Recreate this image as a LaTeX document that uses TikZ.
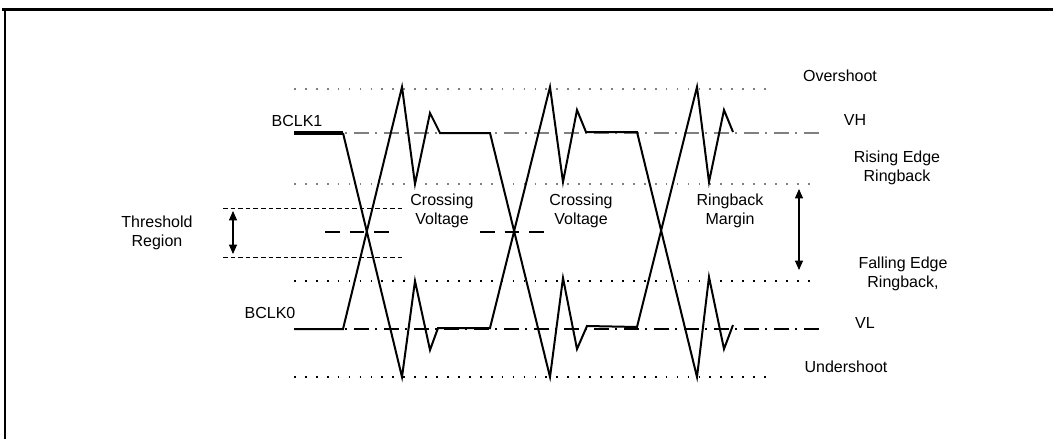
\documentclass[tikz,border=0pt]{standalone}
\usepackage{fontspec}
\setmainfont{Liberation Sans}
\usetikzlibrary{arrows.meta}

\begin{document}
\begin{tikzpicture}[x=0.75pt,y=-0.75pt,
    lbl/.style={font=\fontsize{12}{14.4}\selectfont, align=center, inner sep=0pt},
    wave/.style={line width=1.5pt, line join=miter},
    dotline/.style={line width=1.2pt, dash pattern=on 1.3pt off 6.9pt},
    dashdot/.style={line width=1.2pt, dash pattern=on 11pt off 5pt on 1.5pt off 5pt},
    thresh/.style={line width=0.6pt, dash pattern=on 3.5pt off 2.2pt},
    cross/.style={line width=1.2pt, dash pattern=on 11pt off 7.5pt},
    dbl/.style={line width=0.8pt, {Triangle[length=7pt,width=6pt]}-{Triangle[length=7pt,width=6pt]}}]
    \useasboundingbox (0,0) rectangle (1053,439);
    % frame
    \draw[line width=2.2pt] (2,9.5) -- (1053,9.5);
    \draw[line width=1.5pt] (4.5,8) -- (4.5,439);

    % reference levels
    \draw[dotline, gray] (294,89) -- (770,89);
    \draw[dashdot, gray] (294,133) -- (820,133);
    \draw[dotline, gray] (294,184) -- (817,184);
    \draw[dotline] (294,281) -- (817,281);
    \draw[dashdot] (294,329) -- (820,329);
    \draw[dotline] (294,377) -- (770,377);

    % threshold region and crossing voltage
    \draw[thresh] (223,208) -- (403,208);
    \draw[thresh] (223,257) -- (403,257);
    \draw[cross] (325,232) -- (392,232);
    \draw[cross] (480,232) -- (547,232);

    % clocks
    \draw[line width=3pt] (294,133) -- (343,133);
    \draw[wave] (343,133) -- (402,377) -- (415,281) -- (430,350) -- (438,328)
        -- (490,328) -- (550,87) -- (563,182) -- (577,110) -- (586,132)
        -- (637,132) -- (697,377) -- (709,277) -- (724,349) -- (733,325);
    \draw[wave] (294,329) -- (343,329) -- (402,87) -- (415,184) -- (430,113)
        -- (440,133) -- (490,133) -- (550,377) -- (563,278) -- (577,349)
        -- (587,326) -- (637,327) -- (697,87) -- (709,182) -- (724,110)
        -- (733,132);

    % arrows
    \coordinate (thTop) at (233,211);
    \coordinate (thBot) at (233,254);
    \draw[dbl] (thTop) -- (thBot);
    \coordinate (rbTop) at (799,189);
    \coordinate (rbBot) at (799,270);
    \draw[dbl] (rbTop) -- (rbBot);

    % labels
    \node[lbl] (bclkOne) at (297,121) {BCLK1};
    \node[lbl] (bclkZero) at (270,313) {BCLK0};
    \node[lbl] (thReg) at (157,233) {Threshold\\Region};
    \node[lbl] (crossA) at (442,211) {Crossing\\Voltage};
    \node[lbl] (crossB) at (581,211) {Crossing\\Voltage};
    \node[lbl] (rbMargin) at (730,211) {Ringback\\Margin};
    \node[lbl] (overLbl) at (840,76) {Overshoot};
    \node[lbl] (vhLbl) at (855,120) {VH};
    \node[lbl] (riseLbl) at (897,168) {Rising Edge\\Ringback};
    \node[lbl] (fallLbl) at (903,274) {Falling Edge\\Ringback,};
    \node[lbl] (vlLbl) at (865,323) {VL};
    \node[lbl] (underLbl) at (846,367) {Undershoot};
\end{tikzpicture}
\end{document}
